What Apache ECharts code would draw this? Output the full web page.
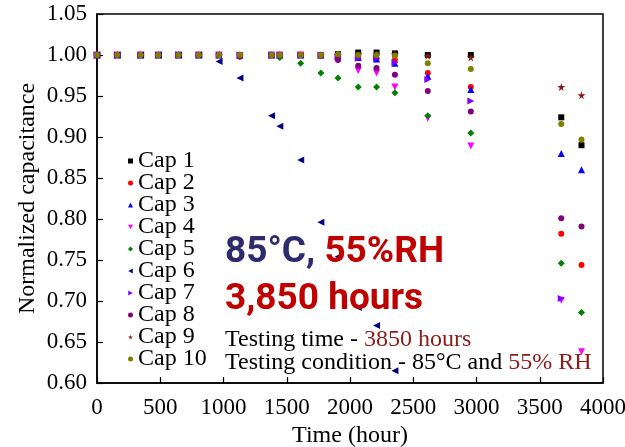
<!DOCTYPE html>
<html>
<head>
<meta charset="utf-8">
<script src="https://cdn.jsdelivr.net/npm/echarts@6/dist/echarts.min.js"></script>
<style>
  html, body { margin: 0; padding: 0; background: #fff; }
  #chart { width: 625px; height: 447px; }
</style>
</head>
<body>
<div id="chart"></div>
<script>
// sampling times (hours)
const times = [0, 160, 345, 485, 645, 805, 965, 1130, 1380, 1445, 1610, 1770, 1905, 2065, 2210, 2355, 2615, 2955, 3670, 3830];

const cap1  = [1, 1, 1, 1, 1, 1, 1, 1, 1, 1, 1, 1, 1.001, 1.003, 1.003, 1.002, 1.0, 1.0, 0.924, 0.890];
const cap2  = [1, 1, 1, 1, 1, 1, 1, 0.999, 1, 1, 1, 1, 1, 0.998, 0.995, 0.994, 0.978, 0.961, 0.782, 0.744];
const cap3  = [1, 1, 1, 1, 1, 1, 1, 1, 1, 1, 1, 1, 0.999, 0.997, 0.995, 0.990, 0.974, 0.958, 0.880, 0.860];
const cap4  = [1, 1, 1, 1, 1, 1, 1, 0.999, 1, 1, 1, 0.999, 0.996, 0.981, 0.978, 0.961, 0.923, 0.889, 0.701, 0.638];
const cap5  = [1, 1, 1, 1, 1, 1, 1, 1, 1, 0.997, 0.990, 0.978, 0.972, 0.961, 0.961, 0.954, 0.926, 0.905, 0.746, 0.686];
const cap6  = [1, 1, 1, 1, 1, 1, 0.992, 0.972, 0.926, 0.913, 0.872, 0.796, 0.754, 0.692, 0.670, 0.615, null, null, null, null];
const cap7  = [1, 1, 1, 1, 1, 1, 1, 1, 1, 1, 1, 1, 0.998, 0.996, 0.996, 0.991, 0.970, 0.944, 0.703, null];
const cap8  = [1, 1, 1, 1, 1, 1, 1, 0.998, 1, 1, 1, 0.999, 0.994, 0.987, 0.984, 0.976, 0.956, 0.931, 0.801, 0.791];
const cap9  = [1, 1, 1, 1, 1, 1, 1, 1, 1, 1, 1, 1, 1, 1.001, 1.001, 1.001, 0.999, 0.997, 0.961, 0.951];
const cap10 = [1, 1, 1, 1, 1, 1, 1, 1, 1, 1, 1, 1, 1.001, 1.0, 1.0, 0.999, 0.990, 0.983, 0.916, 0.897];

const names = ['Cap 1', 'Cap 2', 'Cap 3', 'Cap 4', 'Cap 5', 'Cap 6', 'Cap 7', 'Cap 8', 'Cap 9', 'Cap 10'];
const values = [cap1, cap2, cap3, cap4, cap5, cap6, cap7, cap8, cap9, cap10];
const colors = ['#000000', '#ff0000', '#0000ff', '#ff00ff', '#008000', '#000080', '#7f00ff', '#800080', '#8b1a1a', '#808000'];

// marker shapes
const starPath = 'path://M50,0 L61,35 L98,35 L68,57 L79,91 L50,70 L21,91 L32,57 L2,35 L39,35 Z';
const triDown = 'path://M0,0 L10,0 L5,9 Z';
const triLeft = 'path://M9,0 L9,10 L0,5 Z';
const triRight = 'path://M0,0 L0,10 L9,5 Z';
const symbols = ['rect', 'circle', 'triangle', triDown, 'diamond', triLeft, triRight, 'circle', starPath, 'circle'];
const sizes = [6, 6, 7, 7, 7, 7, 7, 6, 8, 6];

const serif = '"Liberation Serif", "DejaVu Serif", serif';

const chart = echarts.init(document.getElementById('chart'));

const series = names.map(function (n, i) {
    return {
        type: 'scatter',
        name: n,
        symbol: symbols[i],
        symbolSize: sizes[i],
        itemStyle: { color: colors[i], opacity: 1 },
        data: times.map(function (t, k) { return [t, values[i][k]]; })
            .filter(function (p) { return p[1] !== null; }),
        z: 2
    };
});

const option = {
    animation: false,
    grid: {
        left: 97, right: 22, top: 14, bottom: 64,
        outerBoundsMode: 'none',
        show: true, borderColor: '#000', borderWidth: 1.5
    },
    legend: {
        orient: 'vertical',
        left: 123, top: 144,
        itemWidth: 5, itemHeight: 5,
        itemGap: -2,
        textStyle: { fontFamily: serif, fontSize: 24, color: '#000' },
        data: names.map(function (n, i) {
            return { name: n, icon: symbols[i] };
        })
    },
    xAxis: {
        type: 'value',
        min: 0, max: 4000, interval: 500,
        name: 'Time (hour)',
        nameLocation: 'middle',
        nameGap: 41,
        nameMoveOverlap: false,
        nameTextStyle: { fontFamily: serif, fontSize: 24, color: '#000' },
        axisLine: { lineStyle: { color: '#000', width: 1.5 } },
        axisTick: { inside: true, length: 6, lineStyle: { color: '#000', width: 1.2 } },
        axisLabel: {
            fontFamily: serif, fontSize: 23, color: '#000', margin: 13,
            formatter: function (v) { return String(v); }
        },
        splitLine: { show: false }
    },
    yAxis: {
        type: 'value',
        min: 0.6, max: 1.05, interval: 0.05,
        name: 'Normalized capacitance',
        nameLocation: 'middle',
        nameGap: 57,
        nameMoveOverlap: false,
        nameTextStyle: { fontFamily: serif, fontSize: 24, color: '#000' },
        axisLine: { lineStyle: { color: '#000', width: 1.5 } },
        axisTick: { inside: true, length: 6, lineStyle: { color: '#000', width: 1.2 } },
        axisLabel: {
            fontFamily: serif, fontSize: 23, color: '#000', margin: 10,
            formatter: function (v) { return v.toFixed(2); }
        },
        splitLine: { show: false }
    },
    graphic: [
        {
            type: 'text', left: 225, top: 234, z: 10,
            style: {
                text: '{a|85°C, }{b|55%RH}',
                rich: {
                    a: { fontFamily: 'Roboto', fontWeight: 'bold', fontSize: 37, fill: '#2e2a6e' },
                    b: { fontFamily: 'Roboto', fontWeight: 'bold', fontSize: 37, fill: '#c00000' }
                }
            }
        },
        {
            type: 'text', left: 225, top: 281, z: 10,
            style: {
                text: '3,850 hours',
                fontFamily: 'Roboto', fontWeight: 'bold', fontSize: 37, fill: '#c00000'
            }
        },
        {
            type: 'text', left: 225, top: 328, z: 10,
            style: {
                text: '{a|Testing time - }{b|3850 hours}',
                rich: {
                    a: { fontFamily: serif, fontSize: 24, fill: '#000' },
                    b: { fontFamily: serif, fontSize: 24, fill: '#8b1a1a' }
                }
            }
        },
        {
            type: 'text', left: 225, top: 351, z: 10,
            style: {
                text: '{a|Testing condition - 85°C and }{b|55% RH}',
                rich: {
                    a: { fontFamily: serif, fontSize: 24, fill: '#000' },
                    b: { fontFamily: serif, fontSize: 24, fill: '#8b1a1a' }
                }
            }
        }
    ],
    series: series
};
chart.setOption(option);
</script>
</body>
</html>
